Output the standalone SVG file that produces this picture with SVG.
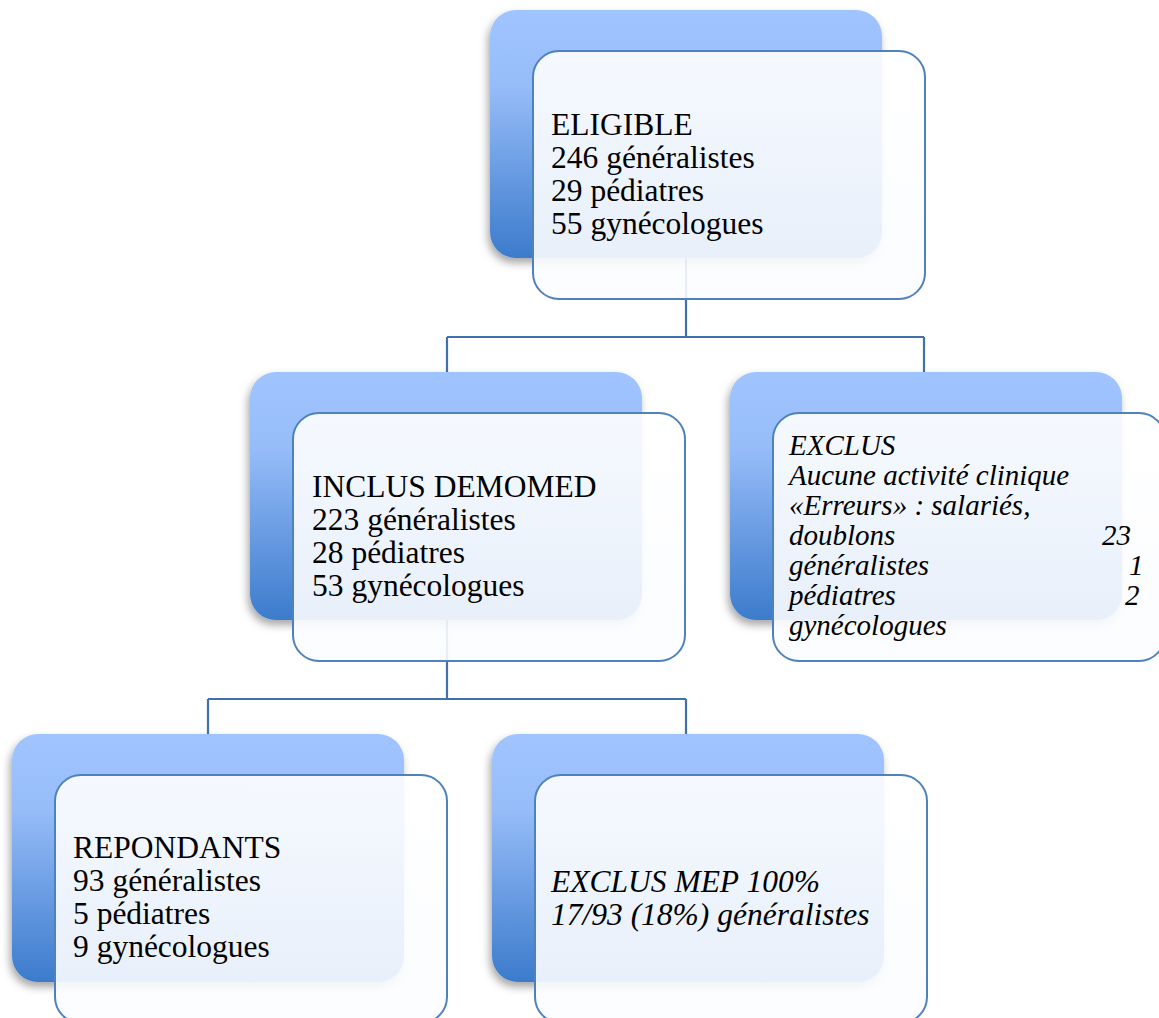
<svg xmlns="http://www.w3.org/2000/svg" width="1159" height="1018" viewBox="0 0 1159 1018">
<defs>
<linearGradient id="backGrad" x1="0" y1="0" x2="0" y2="1">
<stop offset="0" stop-color="#a0c4ff"/>
<stop offset="0.3" stop-color="#97bdf9"/>
<stop offset="1" stop-color="#3c7bcc"/>
</linearGradient>
<linearGradient id="frontGrad" x1="0" y1="0" x2="0" y2="1">
<stop offset="0" stop-color="#ffffff" stop-opacity="0.9"/>
<stop offset="1" stop-color="#fafcff" stop-opacity="0.9"/>
</linearGradient>
<filter id="shadow" x="-10%" y="-10%" width="120%" height="130%">
<feDropShadow dx="-2" dy="5" stdDeviation="4" flood-color="#000000" flood-opacity="0.35"/>
</filter>
</defs>
<style>
.back{fill:url(#backGrad);filter:url(#shadow);}
.front{fill:url(#frontGrad);stroke:#4f81bd;stroke-width:2;}
.conn{fill:none;stroke:#4270ae;stroke-width:2.2;}
.t{font-family:"Liberation Serif","Times New Roman",serif;font-size:31.5px;fill:#000;}
.ti{font-family:"Liberation Serif","Times New Roman",serif;font-size:31.5px;font-style:italic;fill:#000;}
.ts{font-family:"Liberation Serif","Times New Roman",serif;font-size:29px;font-style:italic;fill:#000;}
</style>
<rect width="1159" height="1018" fill="#ffffff"/>
<g id="connectors">
<path class="conn" d="M686 258 V337 M447 337 H924 M447 337 V372 M924 337 V372"/>
<path class="conn" d="M447 620 V699 M208 699 H686 M208 699 V734 M686 699 V734"/>
</g>
<g id="node-eligible">
<rect class="back" x="490" y="10" width="392" height="248" rx="26"/>
<rect class="front" x="533" y="51" width="392" height="248" rx="26"/>
<text class="t" x="551" y="135">ELIGIBLE</text>
<text class="t" x="551" y="168">246 généralistes</text>
<text class="t" x="551" y="201">29 pédiatres</text>
<text class="t" x="551" y="234">55 gynécologues</text>
</g>
<g id="node-inclus">
<rect class="back" x="250" y="372" width="392" height="248" rx="26"/>
<rect class="front" x="293" y="413" width="392" height="248" rx="26"/>
<text class="t" x="312" y="497">INCLUS DEMOMED</text>
<text class="t" x="312" y="530">223 généralistes</text>
<text class="t" x="312" y="563">28 pédiatres</text>
<text class="t" x="312" y="596">53 gynécologues</text>
</g>
<g id="node-exclus">
<rect class="back" x="730" y="372" width="392" height="248" rx="26"/>
<rect class="front" x="773" y="413" width="392" height="248" rx="26"/>
<text class="ts" x="789" y="455">EXCLUS</text>
<text class="ts" x="789" y="485">Aucune activité clinique</text>
<text class="ts" x="789" y="515">«Erreurs» : salariés,</text>
<text class="ts" x="789" y="545">doublons</text>
<text class="ts" x="1102" y="545">23</text>
<text class="ts" x="789" y="575">généralistes</text>
<text class="ts" x="1129" y="575">1</text>
<text class="ts" x="789" y="605">pédiatres</text>
<text class="ts" x="1125" y="605">2</text>
<text class="ts" x="789" y="635">gynécologues</text>
</g>
<g id="node-repondants">
<rect class="back" x="12" y="734" width="392" height="248" rx="26"/>
<rect class="front" x="55" y="775" width="392" height="248" rx="26"/>
<text class="t" x="73" y="858">REPONDANTS</text>
<text class="t" x="73" y="891">93 généralistes</text>
<text class="t" x="73" y="924">5 pédiatres</text>
<text class="t" x="73" y="957">9 gynécologues</text>
</g>
<g id="node-exclus-mep">
<rect class="back" x="492" y="734" width="392" height="248" rx="26"/>
<rect class="front" x="535" y="775" width="392" height="248" rx="26"/>
<text class="ti" x="551" y="892">EXCLUS MEP 100%</text>
<text class="ti" x="551" y="925">17/93 (18%) généralistes</text>
</g>
</svg>
